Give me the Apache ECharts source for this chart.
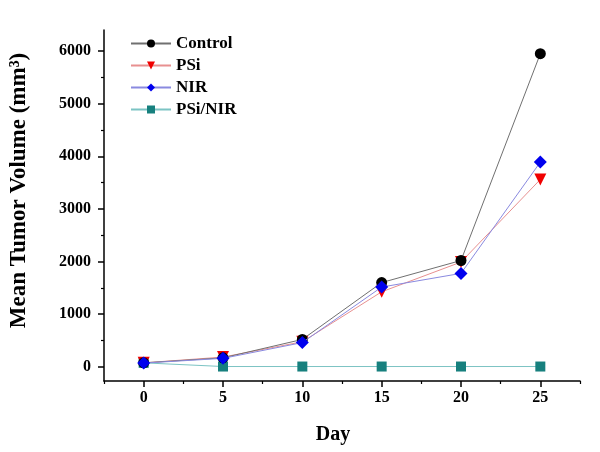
<!DOCTYPE html>
<html>
<head>
<meta charset="utf-8">
<script src="https://cdn.jsdelivr.net/npm/echarts@6/dist/echarts.min.js"></script>
<style>html,body{margin:0;padding:0;background:#fff}#c{width:600px;height:452px}</style>
</head>
<body>
<div id="c"></div>
<script>
const days = [0, 5, 10, 15, 20, 25];
const control = [75, 170, 520, 1600, 2020, 5950];
const psi = [75, 185, 475, 1425, 1990, 3560];
const nir = [70, 160, 460, 1515, 1775, 3890];
const psiNir = [75, 5, 5, 5, 5, 5];
const yMajorTicks = [0, 1000, 2000, 3000, 4000, 5000, 6000];
const yMinorTicks = [500, 1500, 2500, 3500, 4500, 5500];
const xMajorTicks = [0, 5, 10, 15, 20, 25];
const xMinorTicks = [-2.5, 2.5, 7.5, 12.5, 17.5, 22.5, 27.5];

const font = '"Liberation Serif", "Times New Roman", serif';
const pair = (arr) => days.map((d, i) => [d, arr[i]]);

const chart = echarts.init(document.getElementById('c'));
const baseX = {min: -2.5, max: 27.5, type: 'value', splitLine: {show: false}};
const baseY = {min: -270, max: 6400, type: 'value', splitLine: {show: false}};
chart.setOption({
  animation: false,
  backgroundColor: '#fff',
  grid: {left: 104, right: 20, top: 30, bottom: 71},
  legend: {
    orient: 'vertical', left: 125, top: 30, itemWidth: 40, itemHeight: 10, itemGap: 5,
    textStyle: {fontFamily: font, fontWeight: 'bold', fontSize: 17, color: '#000'},
    data: ['Control', 'PSi', 'NIR', 'PSi/NIR']
  },
  xAxis: [
    Object.assign({}, baseX, {
      name: 'Day', nameLocation: 'middle', nameGap: 44,
      nameTextStyle: {fontFamily: font, fontWeight: 'bold', fontSize: 20, color: '#000', padding: [0, 18, 0, 0]},
      axisLine: {onZero: false, lineStyle: {color: '#000', width: 1.5}},
      axisTick: {show: true, length: 6, customValues: xMajorTicks, lineStyle: {color: '#000', width: 1.5}},
      axisLabel: {customValues: xMajorTicks, fontFamily: font, fontWeight: 'bold', fontSize: 16, color: '#000', margin: 9,
                  formatter: (v) => String(v)}
    }),
    Object.assign({}, baseX, {
      position: 'bottom', axisLine: {show: false, onZero: false},
      axisTick: {show: true, length: 3, customValues: xMinorTicks, lineStyle: {color: '#000', width: 1.2}},
      axisLabel: {show: false}
    })
  ],
  yAxis: [
    Object.assign({}, baseY, {
      name: 'Mean Tumor Volume (mm³)', nameLocation: 'middle', nameGap: 73, nameRotate: 90,
      nameTextStyle: {fontFamily: font, fontWeight: 'bold', fontSize: 23, color: '#000', padding: [0, 0, 0, 30]},
      axisLine: {show: true, onZero: false, lineStyle: {color: '#000', width: 1.5}},
      axisTick: {show: true, length: 6, customValues: yMajorTicks, lineStyle: {color: '#000', width: 1.5}},
      axisLabel: {customValues: yMajorTicks, fontFamily: font, fontWeight: 'bold', fontSize: 16, color: '#000', margin: 13,
                  formatter: (v) => String(v)}
    }),
    Object.assign({}, baseY, {
      position: 'left', axisLine: {show: false, onZero: false},
      axisTick: {show: true, length: 3, customValues: yMinorTicks, lineStyle: {color: '#000', width: 1.2}},
      axisLabel: {show: false}
    })
  ],
  series: [
    {name: 'Control', type: 'line', data: pair(control), symbol: 'circle', symbolSize: 11,
     itemStyle: {color: '#000'}, lineStyle: {color: '#707070', width: 1}, z: 5},
    {name: 'PSi', type: 'line', data: pair(psi), symbol: 'triangle', symbolRotate: 180, symbolSize: 12,
     itemStyle: {color: '#f00000'}, lineStyle: {color: '#e89090', width: 1}, z: 4},
    {name: 'NIR', type: 'line', data: pair(nir), symbol: 'diamond', symbolSize: 13,
     itemStyle: {color: '#0000ee'}, lineStyle: {color: '#8a8ae0', width: 1}, z: 6},
    {name: 'PSi/NIR', type: 'line', data: pair(psiNir), symbol: 'rect', symbolSize: 10,
     itemStyle: {color: '#17807e'}, lineStyle: {color: '#7cc4c4', width: 1}, z: 3}
  ]
});
</script>
</body>
</html>
